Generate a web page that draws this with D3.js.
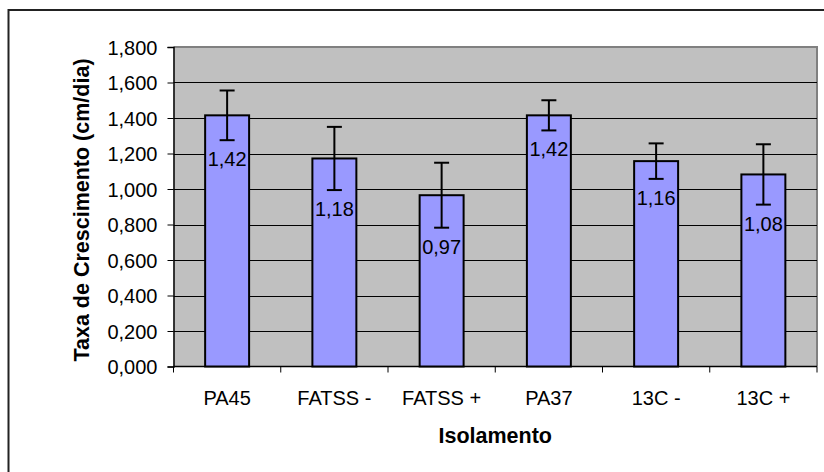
<!DOCTYPE html>
<html>
<head>
<meta charset="utf-8">
<script src="https://cdn.jsdelivr.net/npm/d3@7"></script>
<style>
  html, body { margin: 0; padding: 0; background: #fff; }
  svg { display: block; }
  text { font-family: Arial, "Liberation Sans", sans-serif; }
</style>
</head>
<body>
<svg id="chart" width="824" height="472"></svg>
<script>
const categories = ["PA45", "FATSS -", "FATSS +", "PA37", "13C -", "13C +"];
const values = [1.415, 1.172, 0.965, 1.415, 1.157, 1.082];
const errors = [0.14, 0.178, 0.183, 0.085, 0.1, 0.17];
const valueLabels = ["1,42", "1,18", "0,97", "1,42", "1,16", "1,08"];
const yTicks = [0, 0.2, 0.4, 0.6, 0.8, 1.0, 1.2, 1.4, 1.6, 1.8];
const yTickLabels = ["0,000", "0,200", "0,400", "0,600", "0,800", "1,000", "1,200", "1,400", "1,600", "1,800"];
const xTitle = "Isolamento";
const yTitle = "Taxa de Crescimento (cm/dia)";

const svg = d3.select("#chart");
const plot = { left: 173.5, right: 817, top: 47, bottom: 366.5 };
const FONT = "Arial, 'Liberation Sans', sans-serif";

// outer frame (extends past the image edges)
svg.append("rect")
  .attr("x", 8.5).attr("y", 10).attr("width", 830).attr("height", 480)
  .attr("fill", "#fff").attr("stroke", "#222").attr("stroke-width", 2);

const x = d3.scaleBand().domain(categories).range([plot.left, plot.right]).paddingInner(0.59).paddingOuter(0.295);
const y = d3.scaleLinear().domain([0, 1.8]).range([plot.bottom, plot.top]);

// plot background
svg.append("rect")
  .attr("x", plot.left).attr("y", plot.top)
  .attr("width", plot.right - plot.left).attr("height", plot.bottom - plot.top)
  .attr("fill", "#C0C0C0");
// gray border top/right
svg.append("path")
  .attr("d", `M${plot.left},${plot.top}H${plot.right}V${plot.bottom}`)
  .attr("fill", "none").attr("stroke", "#808080").attr("stroke-width", 2);

// gridlines
svg.append("g").selectAll("line").data(yTicks.slice(1, -1)).join("line")
  .attr("x1", plot.left).attr("x2", plot.right)
  .attr("y1", d => Math.round(y(d)) + 0.5).attr("y2", d => Math.round(y(d)) + 0.5)
  .attr("stroke", "#000").attr("stroke-width", 1);

// y axis
const yAxis = d3.axisLeft(y).tickValues(yTicks).tickSize(6).tickPadding(10)
  .tickFormat((d, i) => yTickLabels[i]);
const gy = svg.append("g").attr("transform", `translate(${plot.left},0)`).call(yAxis);
gy.select(".domain").attr("stroke", "#000").attr("stroke-width", 1.5);
gy.selectAll(".tick line").attr("stroke", "#000");
gy.selectAll(".tick text").attr("font-size", 20).attr("fill", "#000")
  .attr("font-family", FONT).attr("dy", "0.36em");

// x axis (ticks at category boundaries)
const boundaries = d3.range(categories.length + 1).map(i => plot.left + i * (plot.right - plot.left) / categories.length);
const gx = svg.append("g");
gx.append("line").attr("x1", plot.left).attr("x2", plot.right)
  .attr("y1", plot.bottom).attr("y2", plot.bottom).attr("stroke", "#000").attr("stroke-width", 1.5);
gx.selectAll("line.t").data(boundaries).join("line").attr("class", "t")
  .attr("x1", d => d).attr("x2", d => d)
  .attr("y1", plot.bottom).attr("y2", plot.bottom + 6).attr("stroke", "#000");
gx.selectAll("text").data(categories).join("text")
  .attr("x", d => x(d) + x.bandwidth() / 2).attr("y", 405)
  .attr("text-anchor", "middle").attr("font-size", 20).attr("fill", "#000")
  .text(d => d);

// bars
svg.append("g").selectAll("rect").data(categories).join("rect")
  .attr("x", d => x(d)).attr("width", x.bandwidth())
  .attr("y", (d, i) => y(values[i])).attr("height", (d, i) => y(0) - y(values[i]))
  .attr("fill", "#9999FF").attr("stroke", "#000").attr("stroke-width", 2);

// error bars
const eg = svg.append("g").attr("stroke", "#000").attr("stroke-width", 2);
categories.forEach((c, i) => {
  const cx = x(c) + x.bandwidth() / 2;
  const hi = y(values[i] + errors[i]), lo = y(values[i] - errors[i]);
  eg.append("line").attr("x1", cx).attr("x2", cx).attr("y1", hi).attr("y2", lo);
  eg.append("line").attr("x1", cx - 7.5).attr("x2", cx + 7.5).attr("y1", hi).attr("y2", hi);
  eg.append("line").attr("x1", cx - 7.5).attr("x2", cx + 7.5).attr("y1", lo).attr("y2", lo);
});

// value labels
svg.append("g").selectAll("text").data(categories).join("text")
  .attr("x", d => x(d) + x.bandwidth() / 2)
  .attr("y", (d, i) => y(values[i] - errors[i]) + 26)
  .attr("text-anchor", "middle").attr("font-size", 20).attr("fill", "#000")
  .text((d, i) => valueLabels[i]);

// axis titles
svg.append("text")
  .attr("x", (plot.left + plot.right) / 2).attr("y", 443)
  .attr("text-anchor", "middle").attr("font-size", 21.5).attr("font-weight", "bold")
  .text(xTitle);
svg.append("text")
  .attr("transform", `translate(89,210) rotate(-90)`)
  .attr("text-anchor", "middle").attr("font-size", 21.5).attr("font-weight", "bold")
  .text(yTitle);
</script>
</body>
</html>
